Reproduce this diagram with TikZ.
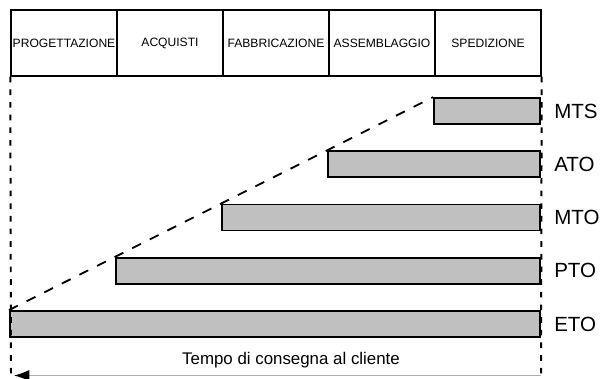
\documentclass[tikz,border=0pt]{standalone}
\usepackage{fontspec}
\setmainfont{Liberation Sans}
\usepackage{tikz}
\usetikzlibrary{arrows.meta}
\definecolor{barfill}{RGB}{192,192,192}
\definecolor{arrowgray}{RGB}{175,175,175}
\tikzstyle{phase} = [rectangle, draw, line width=1pt,
    minimum width=2.65cm, minimum height=1.65cm, inner sep=1pt,
    font=\fontsize{8.6}{10}\selectfont]
\tikzstyle{bar} = [rectangle, draw, line width=1.3pt, fill=barfill,
    minimum height=0.65cm, anchor=east]
\tikzstyle{strategy} = [anchor=west, inner sep=0pt, font=\fontsize{14.6}{17}\selectfont]
\tikzstyle{limit} = [draw, line width=1.4pt, dash pattern=on 4pt off 5pt]
\tikzstyle{trend} = [draw, line width=1.3pt, dash pattern=on 7pt off 7pt]

\begin{document}
\begin{tikzpicture}[x=0.025cm, y=-0.025cm]
                \useasboundingbox (0,0) rectangle (602,378);
                % fasi
                \node [phase] at (64,43) (progettazione) {PROGETTAZIONE};
                \node [phase] at (170,43) (acquisti) {ACQUISTI};
                \node [phase] at (276,43) (fabbricazione) {FABBRICAZIONE};
                \node [phase] at (382,43) (assemblaggio) {ASSEMBLAGGIO};
                \node [phase] at (488,43) (spedizione) {SPEDIZIONE};
                % barre
                \node [bar, minimum width=2.65cm] at (541,111) (mts) {};
                \node [bar, minimum width=5.3cm] at (541,164.25) (ato) {};
                \node [bar, minimum width=7.95cm] at (541,217.5) (mto) {};
                \node [bar, minimum width=10.6cm] at (541,270.75) (pto) {};
                \node [bar, minimum width=13.25cm] at (541,324) (eto) {};
                \node [strategy] at (554,111) (mtslabel) {MTS};
                \node [strategy] at (554,164.25) (atolabel) {ATO};
                \node [strategy] at (554,217.5) (mtolabel) {MTO};
                \node [strategy] at (554,270.75) (ptolabel) {PTO};
                \node [strategy] at (554,324) (etolabel) {ETO};
                % tratteggi
                \coordinate (leftend) at (11,378);
                \coordinate (rightend) at (541,378);
                \path [limit] (progettazione.south west) -- (leftend);
                \path [limit] (spedizione.south east) -- (rightend);
                \path [trend] (eto.north west) -- (mts.north west);
                % tempo
                \node [font=\fontsize{12}{14}\selectfont] at (291,360) (tempo) {Tempo di consegna al cliente};
                \coordinate (arrowtip) at (14,375.5);
                \coordinate (arrowtail) at (541,375.5);
                \draw [arrowgray, line width=0.8pt, -{Latex[color=black, length=11pt, width=8pt]}] (arrowtail) -- (arrowtip);
            \end{tikzpicture}
\end{document}
